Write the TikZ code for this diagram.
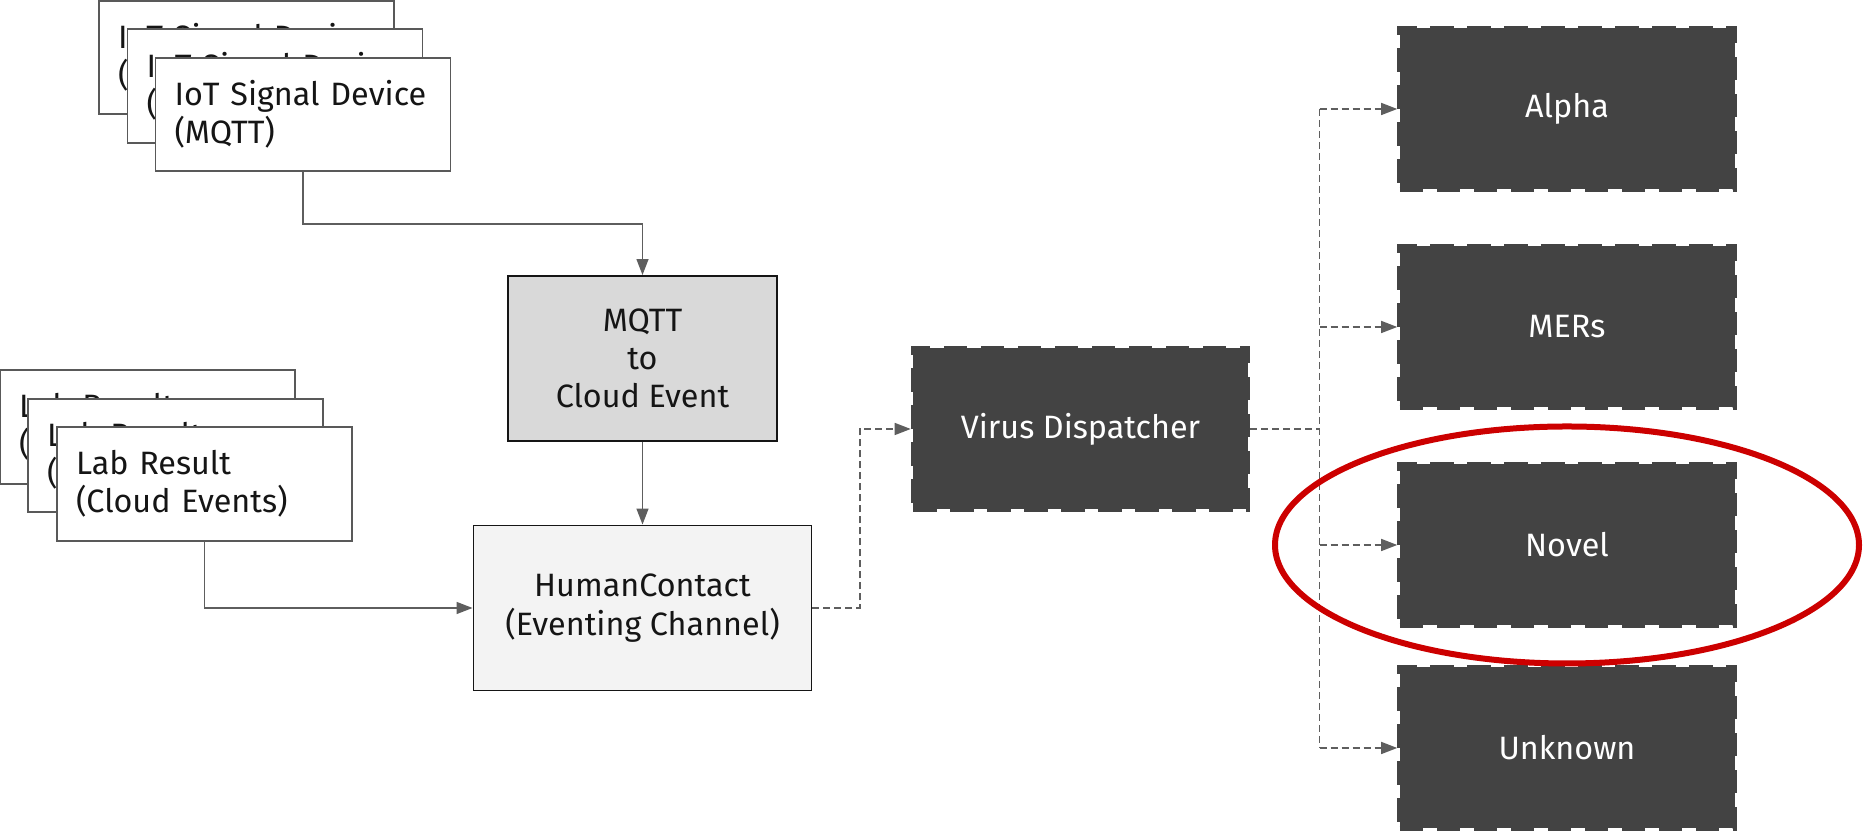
\documentclass[tikz,border=0pt]{standalone}
\usepackage{fontspec}
\setmainfont{Fira Sans}
\usepackage{tikz}
\usetikzlibrary{arrows.meta}
\definecolor{ink}{HTML}{151515}
\definecolor{edge}{HTML}{595959}
\definecolor{wire}{HTML}{5E5E5E}
\definecolor{dark}{HTML}{434343}
\definecolor{mqttfill}{HTML}{D9D9D9}
\definecolor{chanfill}{HTML}{F3F3F3}
\definecolor{alert}{HTML}{CC0000}
\tikzset{
  card/.style={draw=edge, fill=white, line width=0.9pt, text=ink, font=\fontsize{18.4}{21.8}\selectfont, text width=5.14cm, inner xsep=0.38cm, align=left, minimum height=2.27cm},
  stage/.style={draw=ink, line width=1.1pt, text=ink, font=\fontsize{18.4}{21.8}\selectfont, align=center, minimum height=3.3cm},
  virus/.style={fill=dark, draw=dark, line width=2.6pt, dash pattern=on 0.47cm off 0.27cm, text=white, font=\fontsize{18.4}{21.8}\selectfont, minimum width=6.7cm, minimum height=3.22cm},
  link/.style={draw=wire, line width=0.8pt, -{Triangle[length=0.32cm, width=0.24cm]}},
  dlink/.style={link, dash pattern=on 0.14cm off 0.08cm},
  dline/.style={draw=wire, line width=0.8pt, dash pattern=on 0.14cm off 0.08cm},
  ring/.style={draw=alert, line width=0.12cm}
}
\begin{document}
\begin{tikzpicture}
  \useasboundingbox (0,0) rectangle (37.28,16.64);

  \node[card] (I1) at (4.93,15.49) {IoT Signal Device\\(MQTT)};
  \node[card] (I2) at (5.50,14.92) {IoT Signal Device\\(MQTT)};
  \node[card] (I3) at (6.06,14.35) {IoT Signal Device\\(MQTT)};

  \node[card] (L1) at (2.95,8.10) {Lab Result\\(Cloud Events)};
  \node[card] (L2) at (3.51,7.53) {Lab Result\\(Cloud Events)};
  \node[card] (L3) at (4.09,6.96) {Lab Result\\(Cloud Events)};

  \node[stage, fill=mqttfill, minimum width=5.38cm] (mqtt) at (12.85,9.47) {MQTT\\to\\Cloud Event};
  \node[stage, fill=chanfill, minimum width=6.76cm] (hc) at (12.85,4.48) {HumanContact\\(Eventing Channel)};

  \node[virus] (vd) at (21.61,8.06) {Virus Dispatcher};
  \node[virus] (alpha) at (31.34,14.46) {Alpha};
  \node[virus] (mers) at (31.34,10.10) {MERs};
  \node[virus] (novel) at (31.34,5.74) {Novel};
  \node[virus] (unknown) at (31.34,1.68) {Unknown};

  \draw[link] (I3.south) -- ++(0,-1.04) -| (mqtt.north);
  \draw[link] (mqtt.south) -- (hc.north);
  \draw[link] (L3.south) |- (hc.west);
  \draw[dlink] (hc.east) -- ++(0.95,0) |- (vd.west);

  \coordinate (bus) at (26.39,8.06);
  \draw[dline] (vd.east) -- (bus);
  \draw[dline] (bus |- alpha) -- (bus |- unknown);
  \draw[dlink] (bus |- alpha) -- (alpha.west);
  \draw[dlink] (bus |- mers) -- (mers.west);
  \draw[dlink] (bus |- novel) -- (novel.west);
  \draw[dlink] (bus |- unknown) -- (unknown.west);

  \draw[ring] (novel) ellipse [x radius=5.84cm, y radius=2.37cm];
\end{tikzpicture}
\end{document}
